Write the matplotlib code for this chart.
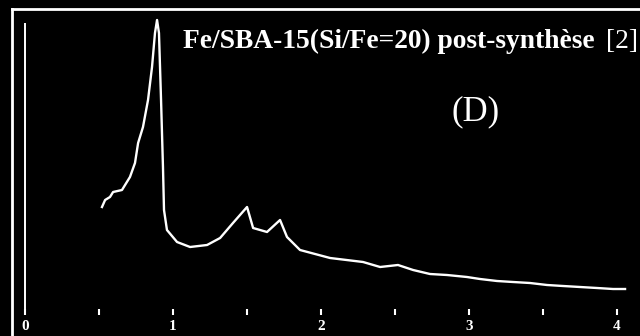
import matplotlib
matplotlib.use("Agg")
import matplotlib.pyplot as plt
import numpy as np

# SAXS pattern (2theta in degrees, intensity in arbitrary units)
two_theta = [0.520, 0.541, 0.574, 0.595, 0.655, 0.709, 0.743, 0.764, 0.797, 0.831,
             0.858, 0.878, 0.892, 0.905, 0.919, 0.932, 0.939, 0.959, 1.027, 1.115,
             1.230, 1.318, 1.405, 1.500, 1.541, 1.635, 1.723, 1.770, 1.858, 2.061,
             2.284, 2.399, 2.520, 2.622, 2.736, 2.851, 2.986, 3.074, 3.189, 3.297,
             3.412, 3.527, 3.635, 3.750, 3.865, 3.973, 4.054]
intensity = [105, 112, 115, 120, 122, 135, 149, 169, 185, 212,
             245, 279, 292, 279, 212, 145, 102, 82, 70, 65,
             67, 74, 89, 105, 84, 80, 92, 75, 62, 54,
             50, 45, 47, 42, 38, 37, 35, 33, 31, 30,
             29, 27, 26, 25, 24, 23, 23]

major_ticks = [0, 1, 2, 3, 4]
minor_ticks = [0.5, 1.5, 2.5, 3.5]
title = "Fe/SBA-15(Si/Fe=20) post-synthèse"
ref = "[2]"
panel = "(D)"

W, H = 640, 336
fig = plt.figure(figsize=(W / 100, H / 100), dpi=100, facecolor="black")
ax = fig.add_axes([12 / W, 0, (W - 12) / W, (H - 9) / H], facecolor="black")

ax.plot(two_theta, intensity, color="white", lw=1.7)
ax.vlines(0, 2, 289, color="white", lw=1.4)

ax.set_xlim(-0.088, 4.155)
ax.set_ylim(-24, 303)

for side in ["right", "bottom"]:
    ax.spines[side].set_visible(False)
for side in ["top", "left"]:
    ax.spines[side].set_color("white")
    ax.spines[side].set_linewidth(2)
ax.spines["bottom"].set_position(("data", 0))

ax.set_xticks(major_ticks)
ax.set_xticklabels([str(t) for t in major_ticks], fontfamily="Liberation Serif",
                   fontweight="bold", fontsize=11, color="white")
ax.set_xticks(minor_ticks, minor=True)
ax.tick_params(axis="x", which="both", direction="inout", length=5, width=1.5,
               color="white", pad=3.5)
ax.set_yticks([])

fig.text(183 / W, 1 - 48 / H, title, fontfamily="Liberation Serif", fontweight="bold",
         fontsize=19.8, color="white", ha="left", va="baseline")
fig.text(638 / W, 1 - 48 / H, ref, fontfamily="Liberation Serif",
         fontsize=19.8, color="white", ha="right", va="baseline")
fig.text(476 / W, 1 - 112 / H, panel, fontfamily="Liberation Serif",
         fontsize=25, color="white", ha="center", va="center")

fig.savefig("out.png", dpi=100, facecolor="black")
